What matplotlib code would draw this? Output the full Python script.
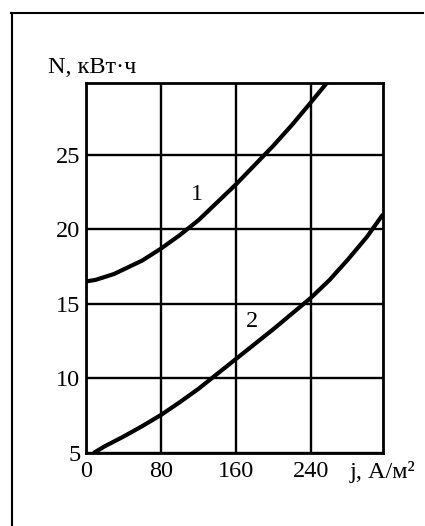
import matplotlib
matplotlib.use("Agg")
import matplotlib.pyplot as plt
from matplotlib.lines import Line2D

# Data
j1 = [0, 10, 20, 30, 40, 50, 60, 70, 80, 100, 120, 140, 160, 180, 200, 220, 240, 257]
N1 = [16.5, 16.6, 16.8, 17.0, 17.3, 17.6, 17.9, 18.3, 18.7, 19.6, 20.6, 21.8, 23.0, 24.3, 25.6, 27.0, 28.5, 29.8]
j2 = [8, 20, 40, 60, 80, 100, 120, 140, 160, 180, 200, 220, 240, 260, 280, 300, 317]
N2 = [5.0, 5.45, 6.1, 6.8, 7.55, 8.4, 9.3, 10.3, 11.3, 12.3, 13.3, 14.35, 15.4, 16.6, 18.0, 19.5, 21.0]
x_ticks = [0, 80, 160, 240]
y_ticks = [5, 10, 15, 20, 25]
curve_labels = ["1", "2"]
y_label = "N, кВт·ч"
x_label = "j, А/м²"

plt.rcParams['font.family'] = ['Liberation Serif', 'DejaVu Serif']
FS = 17.5

W, H = 425, 526
fig = plt.figure(figsize=(W / 100, H / 100), dpi=100)
fig.patch.set_facecolor('white')

# outer frame (left and top edges)
fig.add_artist(Line2D([11.5 / W, 11.5 / W], [0, 1 - 13 / H], color='black', lw=1.5,
                      transform=fig.transFigure))
fig.add_artist(Line2D([11 / W, 423 / W], [1 - 13 / H, 1 - 13 / H], color='black', lw=1.5,
                      transform=fig.transFigure))

left, right, top, bottom = 86, 383, 83, 453
ax = fig.add_axes([left / W, 1 - bottom / H, (right - left) / W, (bottom - top) / H])
ax.set_xlim(0, 317)
ax.set_ylim(5, 29.8)

ax.set_xticks(x_ticks)
ax.set_yticks(y_ticks)
ax.tick_params(length=0, labelsize=FS, colors='black')
ax.tick_params(axis='x', pad=6)
ax.tick_params(axis='y', pad=4)
ax.grid(True, color='black', linewidth=1.7)
for s in ax.spines.values():
    s.set_linewidth(2.0)
    s.set_color('black')

ax.plot(j1, N1, color='black', lw=3.0, solid_capstyle='butt')
ax.plot(j2, N2, color='black', lw=3.0, solid_capstyle='butt')

ax.text(118, 22.3, curve_labels[0], fontsize=FS, ha='center', va='center')
ax.text(177, 13.8, curve_labels[1], fontsize=FS, ha='center', va='center')

fig.text(48 / W, 1 - 73 / H, y_label, fontsize=FS, ha='left', va='baseline')
fig.text(350 / W, 1 - 478 / H, x_label, fontsize=FS, ha='left', va='baseline')

fig.savefig("out.png", dpi=100, facecolor='white')
